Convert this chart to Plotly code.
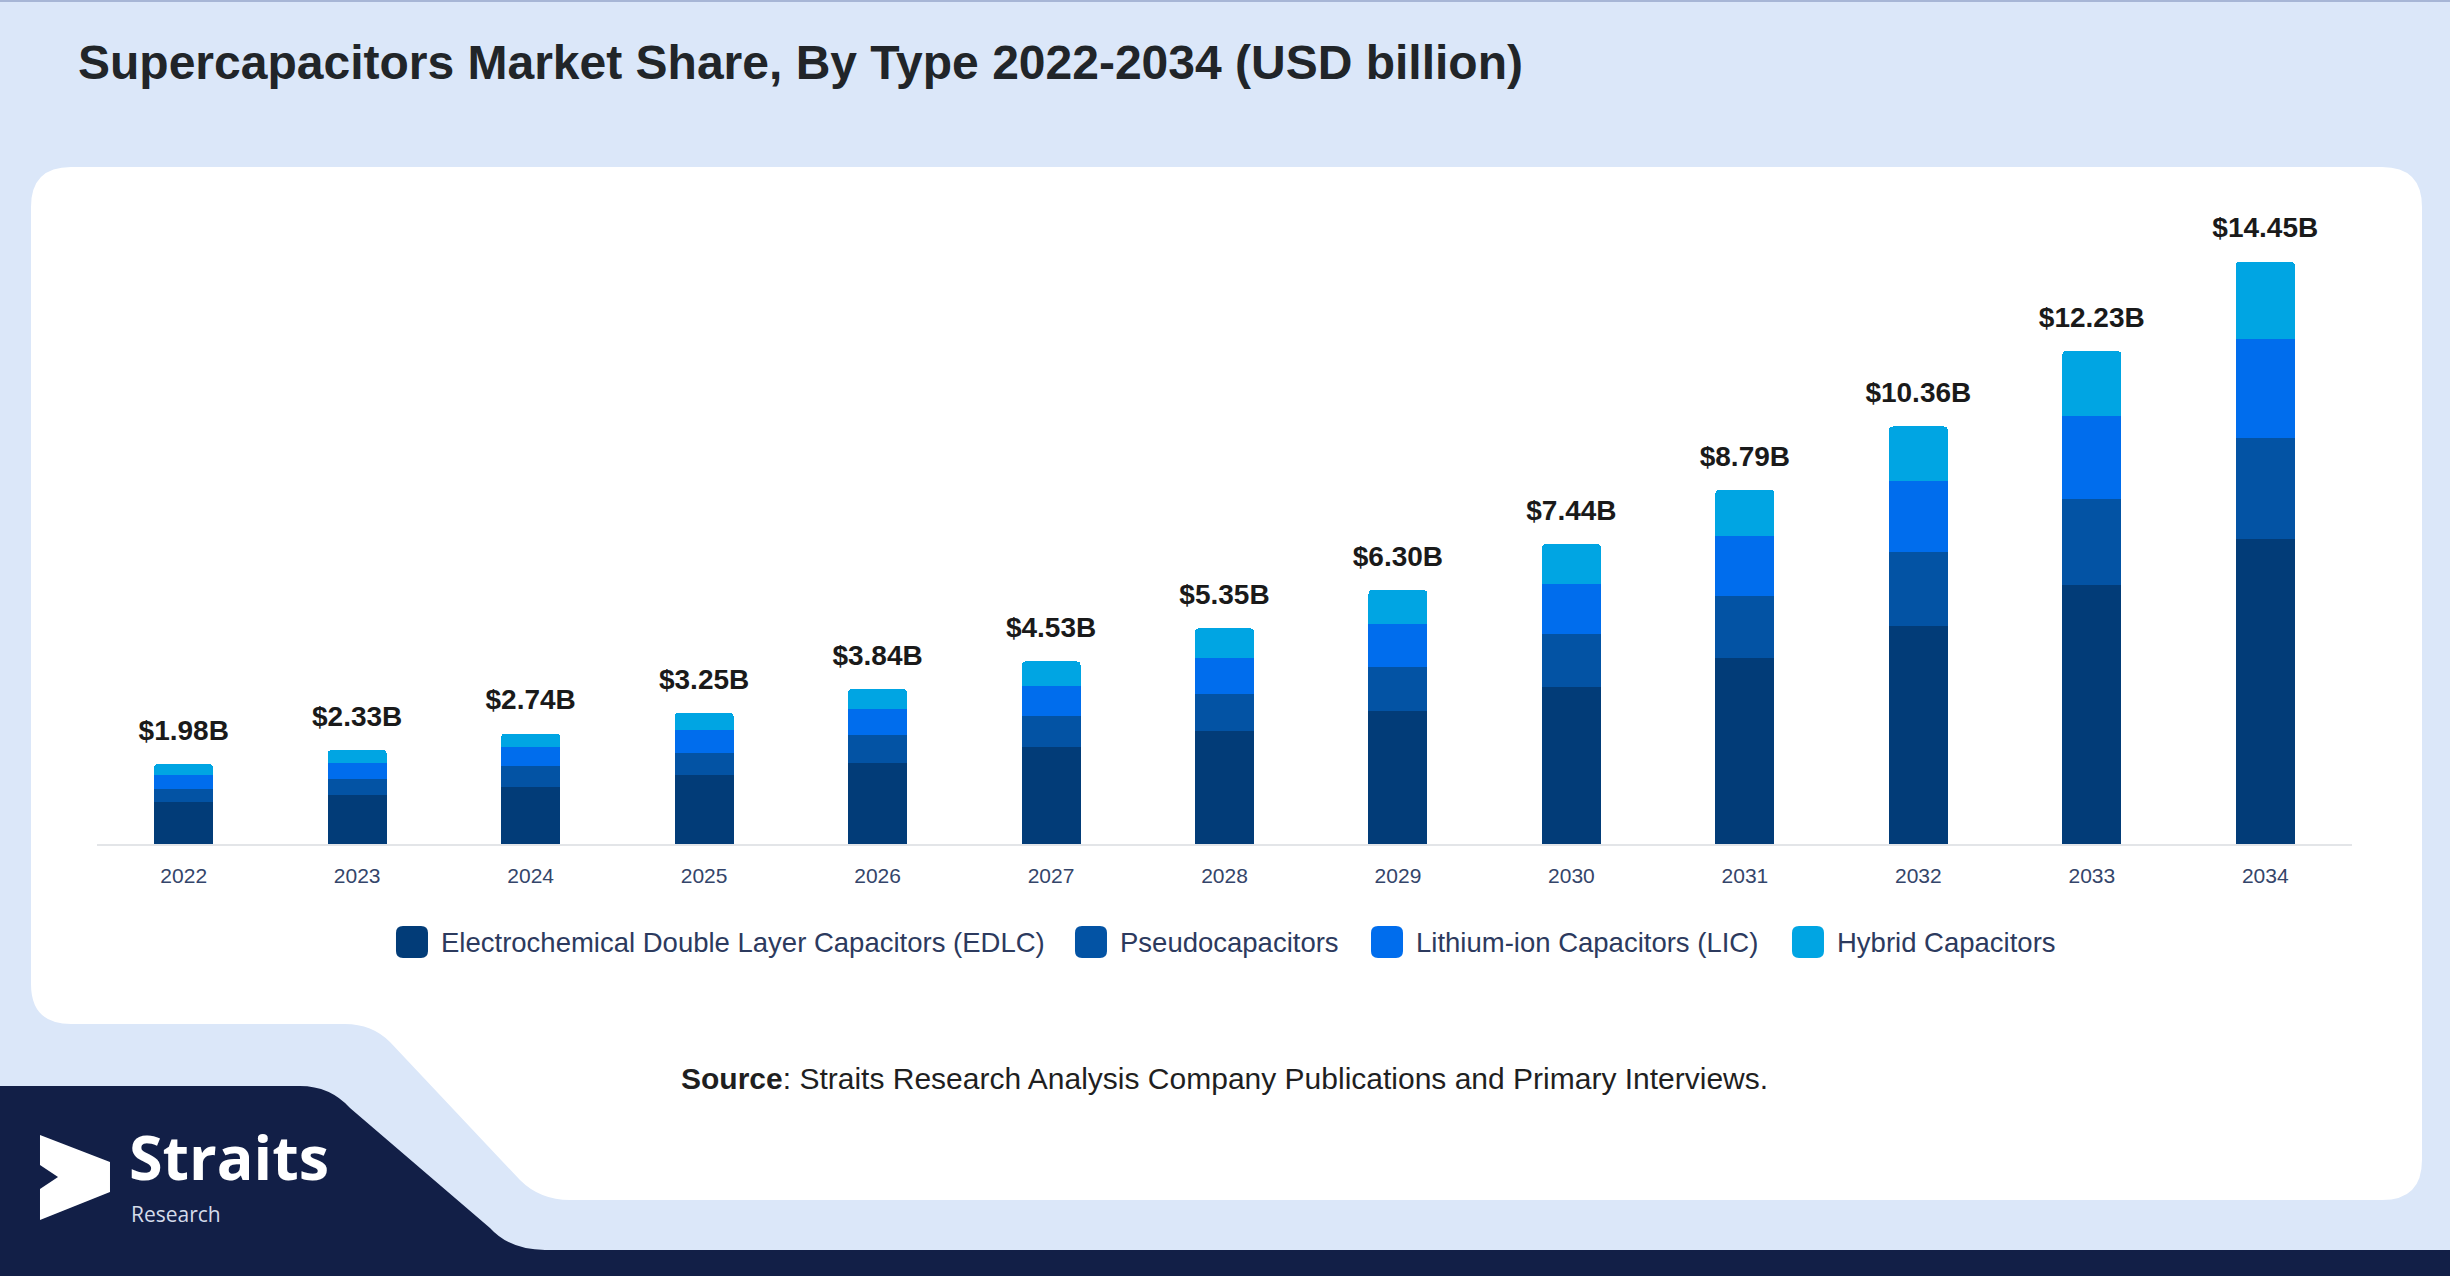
import plotly.graph_objects as go

years = ["2022", "2023", "2024", "2025", "2026", "2027", "2028",
         "2029", "2030", "2031", "2032", "2033", "2034"]
edlc = [1.04, 1.22, 1.42, 1.71, 2.00, 2.40, 2.80, 3.30, 3.89, 4.61, 5.42, 6.43, 7.56]
pseudo = [0.33, 0.40, 0.51, 0.55, 0.70, 0.77, 0.93, 1.10, 1.31, 1.55, 1.83, 2.14, 2.51]
lic = [0.35, 0.40, 0.48, 0.56, 0.64, 0.76, 0.89, 1.07, 1.25, 1.48, 1.75, 2.04, 2.46]
hybrid = [0.26, 0.31, 0.33, 0.43, 0.50, 0.60, 0.73, 0.83, 0.99, 1.15, 1.36, 1.62, 1.92]
totals = [1.98, 2.33, 2.74, 3.25, 3.84, 4.53, 5.35, 6.30, 7.44, 8.79, 10.36, 12.23, 14.45]

series_names = ["Electrochemical Double Layer Capacitors (EDLC)", "Pseudocapacitors",
                "Lithium-ion Capacitors (LIC)", "Hybrid Capacitors"]
series_values = [edlc, pseudo, lic, hybrid]
series_colors = ["#023c78", "#0353a4", "#006ded", "#00a5e3"]

# page geometry (pixels)
W, H = 2450, 1276
L, R, T, B = 97, 98, 200, 432
PW, PH = W - L - R, H - T - B
BG = "#dbe7f9"
NAVY = "#121f47"
FONT = "Liberation Sans, Arial, sans-serif"
LOGO_FONT = "Open Sans, sans-serif"


def px(x):
    return (x - L) / PW


def py(y):
    return (H - B - y) / PH


def path(points):
    # pixel points; ("Q", ctrl, end) gives a rounded turn
    out = []
    for i, p in enumerate(points):
        if p[0] == "Q":
            c, e = p[1], p[2]
            out.append(f"Q{px(c[0]):.5f},{py(c[1]):.5f} {px(e[0]):.5f},{py(e[1]):.5f}")
        else:
            out.append(("M" if i == 0 else "L") + f"{px(p[0]):.5f},{py(p[1]):.5f}")
    return " ".join(out) + " Z"


def rounded_box(x0, y0, x1, y1, r):
    return path([
        (x0 + r, y0), (x1 - r, y0), ("Q", (x1, y0), (x1, y0 + r)),
        (x1, y1 - r), ("Q", (x1, y1), (x1 - r, y1)),
        (x0 + r, y1), ("Q", (x0, y1), (x0, y1 - r)),
        (x0, y0 + r), ("Q", (x0, y0), (x0 + r, y0)),
    ])


fig = go.Figure()

for name, vals, color in zip(series_names, series_values, series_colors):
    fig.add_trace(go.Bar(
        x=years, y=vals, name=name,
        marker=dict(color=color, line_width=0),
        hovertemplate="%{x}: $%{y:.2f}B<extra>" + name + "</extra>",
    ))

# total labels on top of each stack
fig.add_trace(go.Scatter(
    x=years, y=totals, mode="markers+text",
    text=[f"<b>${t:.2f}B</b>" for t in totals],
    textposition="top center", cliponaxis=False,
    marker=dict(size=26, color="rgba(0,0,0,0)"),
    textfont=dict(size=28, color="#1a1a1a", family=FONT),
    hoverinfo="skip", showlegend=False,
))

r = 40
card = [
    (31 + r, 167), (2422 - r, 167), ("Q", (2422, 167), (2422, 167 + r)),
    (2422, 1200 - r), ("Q", (2422, 1200), (2422 - r, 1200)),
    (570, 1200), ("Q", (540, 1200), (520, 1180)),
    (390, 1042), ("Q", (372, 1024), (345, 1024)),
    (31 + r, 1024), ("Q", (31, 1024), (31, 1024 - r)),
    (31, 167 + r), ("Q", (31, 167), (31 + r, 167)),
]
navy = [
    (0, 1086), (300, 1086), ("Q", (330, 1086), (350, 1108)),
    (490, 1228), ("Q", (510, 1250), (545, 1250)),
    (2450, 1250), (2450, 1276), (0, 1276),
]
icon = [
    (40, 1135), (110, 1162), (110, 1192), (40, 1220),
    (40, 1189), (58, 1177), (40, 1165),
]

shapes = [
    dict(type="path", path=path(card), xref="paper", yref="paper",
         fillcolor="white", line_width=0, layer="below"),
    dict(type="path", path=path(navy), xref="paper", yref="paper",
         fillcolor=NAVY, line_width=0, layer="below"),
    dict(type="path", path=path(icon), xref="paper", yref="paper",
         fillcolor="white", line_width=0, layer="above"),
    dict(type="line", xref="paper", yref="paper", x0=px(0), x1=px(W),
         y0=py(1), y1=py(1), line=dict(color="#a7b6d6", width=2)),
]

# legend drawn by hand to get the big rounded swatches
legend_swatch_x = [396, 1075, 1371, 1792]
for name, color, sx in zip(series_names, series_colors, legend_swatch_x):
    shapes.append(dict(type="path", path=rounded_box(sx, 926, sx + 32, 958, 7),
                       xref="paper", yref="paper", fillcolor=color, line_width=0))
    fig.add_annotation(
        xref="paper", yref="paper", x=px(sx + 43), y=py(942),
        xanchor="left", yanchor="middle", text=name, showarrow=False,
        font=dict(size=27.5, color="#2c3a5e", family=FONT),
    )

fig.add_annotation(
    xref="paper", yref="paper", x=px(128), y=py(1156), xanchor="left", yanchor="middle",
    text="<b>Straits</b>", showarrow=False, borderpad=0,
    font=dict(size=61, color="white", family=LOGO_FONT),
)
fig.add_annotation(
    xref="paper", yref="paper", x=px(130), y=py(1214), xanchor="left", yanchor="middle",
    text="Research", showarrow=False, borderpad=0,
    font=dict(size=21, color="#d4dbea", family=LOGO_FONT),
)
fig.add_annotation(
    xref="paper", yref="paper", x=px(1224), y=py(1078), xanchor="center", yanchor="middle",
    text="<b>Source</b>: Straits Research Analysis Company Publications and Primary Interviews.",
    showarrow=False, font=dict(size=30, color="#1f1f1f", family=FONT),
)

fig.update_layout(
    width=W, height=H,
    margin=dict(l=L, r=R, t=T, b=B, autoexpand=False),
    paper_bgcolor=BG, plot_bgcolor="white",
    barmode="stack", bargap=0.66, barcornerradius=4,
    font=dict(family=FONT),
    showlegend=False,
    title=dict(
        text="<b>Supercapacitors Market Share, By Type 2022-2034 (USD billion)</b>",
        xref="container", yref="container", x=78 / W, y=1 - 62 / H,
        xanchor="left", yanchor="middle",
        font=dict(size=48, color="#212529", family=FONT),
    ),
    xaxis=dict(
        type="category", range=[-0.5, 12.5], showgrid=False,
        showline=True, linecolor="#e3e5e8", linewidth=2,
        ticks="", ticklabelstandoff=12,
        tickfont=dict(size=21, color="#34456a", family=FONT),
    ),
    yaxis=dict(range=[0, PH / 40.3], visible=False, showgrid=False),
    shapes=shapes,
)

fig.write_html("out.html", config={"displayModeBar": False},
               post_script="document.body.style.margin='0';")
